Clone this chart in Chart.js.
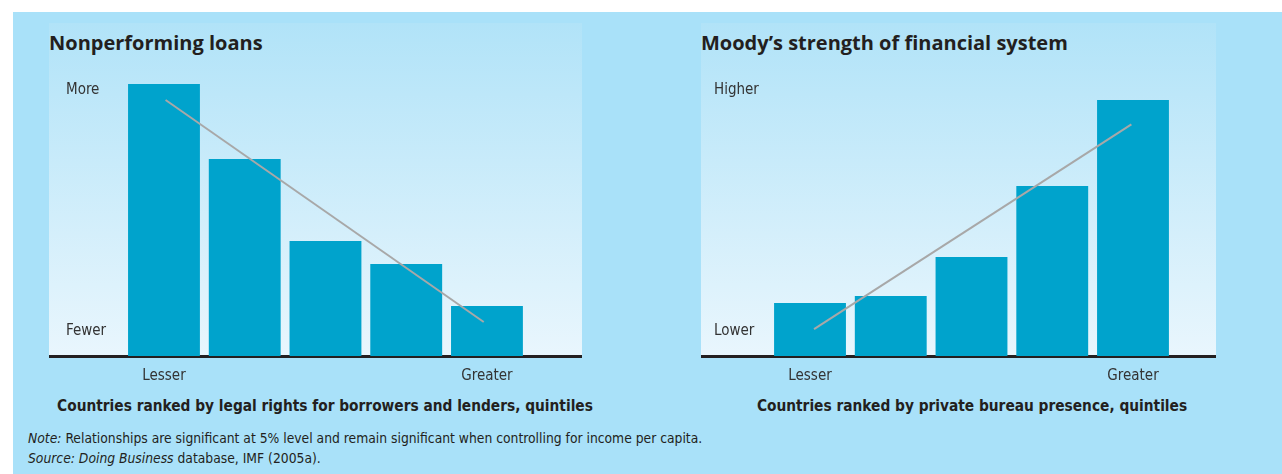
<!DOCTYPE html>
<html>
<head>
<meta charset="utf-8">
<script src="https://cdn.jsdelivr.net/npm/chart.js@4/dist/chart.umd.min.js"></script>
<style>
  body { margin: 0; width: 1282px; height: 474px; background: #fff; position: relative; overflow: hidden; }
  #outer { position: absolute; left: 13px; top: 12px; right: 0; bottom: 0; background: #a9e1f9; }
  .panel { position: absolute; top: 23px; height: 333px; background: linear-gradient(#b1e3f8, #e9f6fd); }
  .ptitle { position: absolute; top: 29px; font: 700 20px "Open Sans", sans-serif; color: #231f20; white-space: nowrap; }
  .xtitle { position: absolute; top: 397px; font: 700 15.3px "Liberation Sans Narrow", "DejaVu Sans Condensed", sans-serif; color: #231f20; white-space: nowrap; transform: translateX(-50%); }
  .note { position: absolute; left: 28px; font: 13.75px "Liberation Sans Narrow", "DejaVu Sans Condensed", sans-serif; color: #231f20; white-space: nowrap; }
  canvas { position: absolute; top: 23px; }
</style>
</head>
<body>
<div id="outer"></div>
<div class="panel" style="left:49px;width:533px"></div>
<div class="panel" style="left:701px;width:515px"></div>
<div class="ptitle" style="left:49px">Nonperforming loans</div>
<div class="ptitle" style="left:701px">Moody’s strength of financial system</div>
<canvas id="loans" width="533" height="373" style="left:49px"></canvas>
<canvas id="moody" width="515" height="373" style="left:701px"></canvas>
<div class="xtitle" style="left:325px">Countries ranked by legal rights for borrowers and lenders, quintiles</div>
<div class="xtitle" style="left:972px">Countries ranked by private bureau presence, quintiles</div>
<div class="note" style="top:430px"><i>Note:</i> Relationships are significant at 5% level and remain significant when controlling for income per capita.</div>
<div class="note" style="top:450px"><i>Source: Doing Business</i> database, IMF (2005a).</div>
<script>
// quintiles 1..5, index values (0-10 scale)
const quintiles = [1, 2, 3, 4, 5];
const xTickLabels = ['Lesser', '', '', '', 'Greater'];

const loansValues = [9.51, 6.89, 4.02, 3.22, 1.75];
const loansTrendX = [1.02, 4.96];
const loansTrendY = [8.95, 1.19];
const loansTickValues = [0.87, 9.30];
const loansTickLabels = ['Fewer', 'More'];

const moodyValues = [1.85, 2.10, 3.46, 5.94, 8.95];
const moodyTrendX = [1.05, 4.98];
const moodyTrendY = [0.94, 8.10];
const moodyTickValues = [0.87, 9.30];
const moodyTickLabels = ['Lower', 'Higher'];

const BAR = '#00a3cc';
const LINE = '#a8a8a8';
const TXT = '#333333';
const tickFont = { family: '"Liberation Sans Narrow", "DejaVu Sans Condensed", sans-serif', size: 15 };

function makeChart(id, values, trendX, trendY, tickValues, tickLabels, xMin, xMax, yPad) {
  const bars = quintiles.map((q, i) => ({ x: q, y: values[i] }));
  const trend = trendX.map((x, i) => ({ x: x, y: trendY[i] }));
  return new Chart(document.getElementById(id), {
    type: 'bar',
    data: {
      datasets: [
        { type: 'line', data: trend, borderColor: LINE, borderWidth: 2, pointRadius: 0, order: 0 },
        { data: bars, backgroundColor: BAR, categoryPercentage: 1, barPercentage: 0.89, order: 1 }
      ]
    },
    options: {
      responsive: false,
      animation: false,
      layout: { padding: { top: 47, left: 0, right: 0, bottom: 0 } },
      plugins: { legend: { display: false }, tooltip: { enabled: false } },
      scales: {
        x: {
          type: 'linear', min: xMin, max: xMax, offset: false,
          grid: { display: false, drawTicks: false },
          border: { display: true, color: '#231f20', width: 3 },
          afterBuildTicks: s => { s.ticks = quintiles.map(v => ({ value: v })); },
          afterFit: s => { s.height = 40; },
          ticks: {
            padding: 11, color: TXT, font: tickFont, autoSkip: false, maxRotation: 0,
            callback: v => xTickLabels[quintiles.indexOf(v)]
          }
        },
        y: {
          min: 0, max: 10,
          grid: { display: false, drawTicks: false },
          border: { display: false },
          afterBuildTicks: s => { s.ticks = tickValues.map(v => ({ value: v })); },
          afterFit: s => { s.width = 0; },
          ticks: {
            mirror: true, padding: yPad, color: TXT, font: tickFont,
            callback: v => tickLabels[tickValues.indexOf(v)]
          }
        }
      }
    }
  });
}

makeChart('loans', loansValues, loansTrendX, loansTrendY, loansTickValues, loansTickLabels, -0.424, 6.177, 17);
makeChart('moody', moodyValues, moodyTrendX, moodyTrendY, moodyTickValues, moodyTickLabels, -0.35, 6.028, 13);
</script>
</body>
</html>
